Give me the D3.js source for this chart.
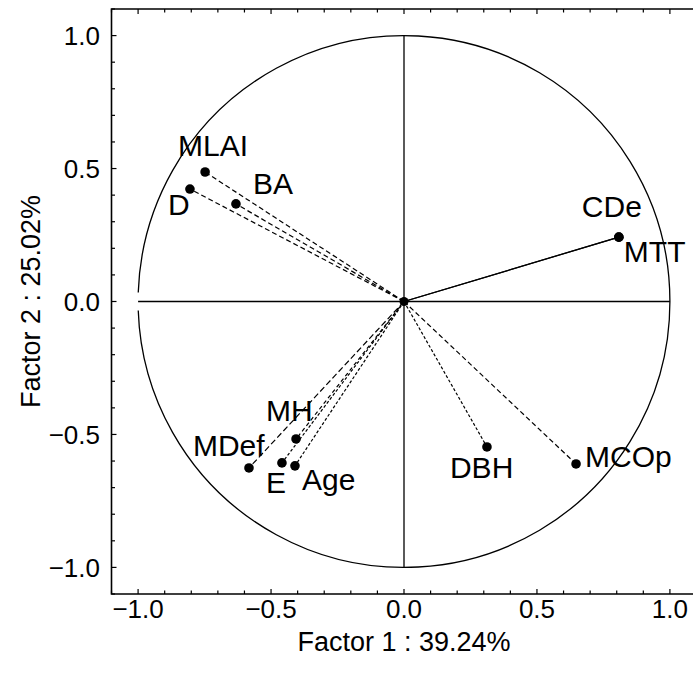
<!DOCTYPE html>
<meta charset="utf-8">
<head>
    <title>Factor plot</title>
    <style>
        body { margin: 0; background: #fff; }
        text { font-family: "Liberation Sans", Arial, sans-serif; fill: #000; }
    </style>
</head>
<body>
<script src="https://d3js.org/d3.v7.min.js"></script>
<div id="my_dataviz"></div>
<script>

    // variables and their loadings on factor 1 / factor 2
    var names   = ["MLAI", "D", "BA", "CDe", "MTT", "MH", "MDef", "E", "Age", "DBH", "MCOp"]
    var factor1 = [-0.748, -0.805, -0.632, 0.808, 0.808, -0.406, -0.583, -0.459, -0.410, 0.312, 0.647]
    var factor2 = [0.487, 0.423, 0.367, 0.242, 0.242, -0.517, -0.626, -0.607, -0.618, -0.547, -0.611]
    var lineDash = ["5,3", "5,3", "5,3", null, null, "4,3", "6,3", "3,2", "3,2", "3,2", "5,3"]
    // label offsets (px) from the dot
    var labelDx = [-27, -22, 17, -37, 5, -30, -56, -16, 7, -37, 9]
    var labelDy = [-16, 26, -10, -20, 25, -18, -12, 30, 24, 31, 3]

    var majorTicks = [-1.0, -0.5, 0.0, 0.5, 1.0]
    var minorTicks = d3.range(-11, 12).map(function(i) { return i / 10 })
    var xTitle = "Factor 1 : 39.24%"
    var yTitle = "Factor 2 : 25.02%"

    var W = 693, H = 673
    var svg = d3.select("#my_dataviz")
        .append("svg")
        .attr("width", W)
        .attr("height", H)

    var x = d3.scaleLinear().domain([-1.1, 1.1]).range([111.5, 696.5])
    var y = d3.scaleLinear().domain([-1.1, 1.1]).range([594, 9])

    // frame
    svg.append("path")
        .attr("d", "M" + x(1.1) + "," + y(1.1) + "H" + x(-1.1) + "V" + y(-1.1) + "H" + x(1.1))
        .attr("fill", "none")
        .attr("stroke", "#000")
        .attr("stroke-width", 1.6)

    // inside ticks - minor every 0.1, major every 0.5
    function tickLen(v) { return Math.abs(v * 2 - Math.round(v * 2)) < 1e-6 ? 5 : 3.5 }
    var ticks = svg.append("g").attr("stroke", "#000").attr("stroke-width", 1.2)
    minorTicks.forEach(function(v) {
        var L = tickLen(v)
        ticks.append("line").attr("x1", x(v)).attr("x2", x(v)).attr("y1", y(-1.1)).attr("y2", y(-1.1) - L)
        ticks.append("line").attr("x1", x(v)).attr("x2", x(v)).attr("y1", y(1.1)).attr("y2", y(1.1) + L)
        ticks.append("line").attr("y1", y(v)).attr("y2", y(v)).attr("x1", x(-1.1)).attr("x2", x(-1.1) + L)
    })

    // tick labels
    var fmt = d3.format(".1f")
    svg.selectAll(".xlab")
        .data(majorTicks)
        .enter()
        .append("text")
        .attr("x", function(d) { return x(d) })
        .attr("y", 618)
        .style("text-anchor", "middle")
        .style("font-size", "26px")
        .text(fmt)
    svg.selectAll(".ylab")
        .data(majorTicks)
        .enter()
        .append("text")
        .attr("x", 100)
        .attr("y", function(d) { return y(d) + 9.5 })
        .style("text-anchor", "end")
        .style("font-size", "26px")
        .text(fmt)

    // axis titles
    svg.append("text")
        .attr("x", x(0))
        .attr("y", 651)
        .style("text-anchor", "middle")
        .style("font-size", "27px")
        .text(xTitle)
    svg.append("text")
        .attr("transform", "translate(40," + y(0) + ") rotate(-90)")
        .style("text-anchor", "middle")
        .style("font-size", "27px")
        .text(yTitle)

    // unit circle (small gap where it meets the horizontal axis on the left)
    var r = x(1) - x(0)
    var circ = d3.path()
    circ.arc(x(0), y(0), r, -Math.PI + 0.034, Math.PI - 0.034)
    svg.append("path")
        .attr("d", circ.toString())
        .attr("fill", "none")
        .attr("stroke", "#000")
        .attr("stroke-width", 1.3)

    // cross lines
    svg.append("line")
        .attr("x1", x(-1)).attr("x2", x(1)).attr("y1", y(0)).attr("y2", y(0))
        .attr("stroke", "#000").attr("stroke-width", 1.3)
    svg.append("line")
        .attr("x1", x(0)).attr("x2", x(0)).attr("y1", y(1)).attr("y2", y(-1))
        .attr("stroke", "#000").attr("stroke-width", 1.3)

    var idx = d3.range(names.length)

    // vectors from origin
    svg.selectAll(".vec")
        .data(idx)
        .enter()
        .append("line")
        .attr("x1", x(0))
        .attr("y1", y(0))
        .attr("x2", function(i) { return x(factor1[i]) })
        .attr("y2", function(i) { return y(factor2[i]) })
        .attr("stroke", "#000")
        .attr("stroke-width", 1.2)
        .attr("stroke-dasharray", function(i) { return lineDash[i] })

    // origin dot
    svg.append("circle")
        .attr("cx", x(0)).attr("cy", y(0)).attr("r", 4.5).attr("fill", "#000")

    // points
    svg.selectAll(".pt")
        .data(idx)
        .enter()
        .append("circle")
        .attr("cx", function(i) { return x(factor1[i]) })
        .attr("cy", function(i) { return y(factor2[i]) })
        .attr("r", 4.8)
        .attr("fill", "#000")

    // labels
    svg.selectAll(".lab")
        .data(idx)
        .enter()
        .append("text")
        .attr("x", function(i) { return x(factor1[i]) + labelDx[i] })
        .attr("y", function(i) { return y(factor2[i]) + labelDy[i] })
        .style("font-size", "30px")
        .text(function(i) { return names[i] })

</script>
</body>
